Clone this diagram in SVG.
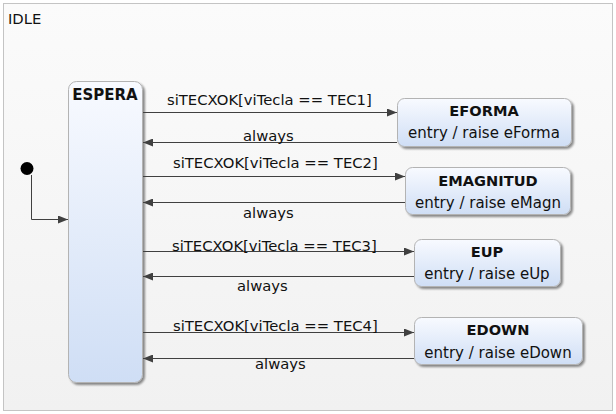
<svg xmlns="http://www.w3.org/2000/svg" width="616" height="414" viewBox="0 0 616 414">
<defs>
<linearGradient id="bg" x1="0" y1="0" x2="0" y2="1"><stop offset="0" stop-color="#fbfbfb"/><stop offset="1" stop-color="#f1f1f1"/></linearGradient>
<linearGradient id="st" x1="0" y1="0" x2="0" y2="1"><stop offset="0" stop-color="#f8faff"/><stop offset="1" stop-color="#cfdef5"/></linearGradient>
<marker id="ar" viewBox="0 0 10 8" refX="10" refY="4" markerWidth="10" markerHeight="8" markerUnits="userSpaceOnUse" orient="auto"><path d="M0,0 L10,4 L0,8 z" fill="#404040"/></marker>
<filter id="sh" x="-10%" y="-10%" width="130%" height="130%"><feGaussianBlur in="SourceAlpha" stdDeviation="1.2"/><feOffset dx="2" dy="2"/><feComponentTransfer><feFuncA type="linear" slope="0.45"/></feComponentTransfer><feMerge><feMergeNode/><feMergeNode in="SourceGraphic"/></feMerge></filter>
</defs>
<style>
text{font-family:"DejaVu Sans","Liberation Sans",sans-serif;fill:#111;}
.lbl{font-size:14.8px;}
.name{font-size:14.6px;font-weight:bold;text-anchor:middle;}
.act{font-size:15px;text-anchor:middle;}
.state{fill:url(#st);stroke:#b3b3b3;stroke-width:1;filter:url(#sh);}
.tr{fill:none;stroke:#404040;stroke-width:1;marker-end:url(#ar);}
</style>
<g id="IDLE">
<rect x="3.5" y="3.5" width="609" height="407" fill="url(#bg)" stroke="#c4c4c4"/>
<text x="8" y="24" style="font-size:14.8px">IDLE</text>
</g>
<g id="initial"><circle cx="27" cy="168.5" r="6.5" fill="#000"/></g>
<g id="ESPERA">
<rect class="state" x="68.5" y="81.5" width="74" height="301" rx="8"/>
<text class="name" x="105" y="100" style="font-size:15px">ESPERA</text>
</g>
<g id="EFORMA">
<rect class="state" x="397.5" y="98.5" width="174" height="48" rx="7"/>
<text class="name" x="484" y="116">EFORMA</text>
<text class="act" x="484" y="138">entry / raise eForma</text>
</g>
<g id="EMAGNITUD">
<rect class="state" x="405.5" y="167.5" width="165" height="47" rx="7"/>
<text class="name" x="488" y="186">EMAGNITUD</text>
<text class="act" x="488" y="208">entry / raise eMagn</text>
</g>
<g id="EUP">
<rect class="state" x="414.5" y="239.5" width="146" height="47" rx="7"/>
<text class="name" x="487" y="257">EUP</text>
<text class="act" x="487" y="279">entry / raise eUp</text>
</g>
<g id="EDOWN">
<rect class="state" x="414.5" y="317.5" width="168" height="47" rx="7"/>
<text class="name" x="498" y="335">EDOWN</text>
<text class="act" x="498" y="358">entry / raise eDown</text>
</g>
<g id="connectors">
<path class="tr" d="M31.5,175 V219.5 H68"/>
<path class="tr" d="M143,112.5 H397"/>
<path class="tr" d="M397,142.5 H143"/>
<path class="tr" d="M143,176.5 H405"/>
<path class="tr" d="M405,202.5 H143"/>
<path class="tr" d="M143,251.5 H414"/>
<path class="tr" d="M414,276.5 H143"/>
<path class="tr" d="M143,332.5 H414"/>
<path class="tr" d="M414,358.5 H143"/>
<text class="lbl" x="167" y="105">siTECXOK[viTecla == TEC1]</text>
<text class="lbl" x="243" y="141">always</text>
<text class="lbl" x="173" y="168">siTECXOK[viTecla == TEC2]</text>
<text class="lbl" x="243" y="218">always</text>
<text class="lbl" x="172" y="251">siTECXOK[viTecla == TEC3]</text>
<text class="lbl" x="237" y="291">always</text>
<text class="lbl" x="173" y="331">siTECXOK[viTecla == TEC4]</text>
<text class="lbl" x="255" y="369">always</text>
</g>
</svg>
